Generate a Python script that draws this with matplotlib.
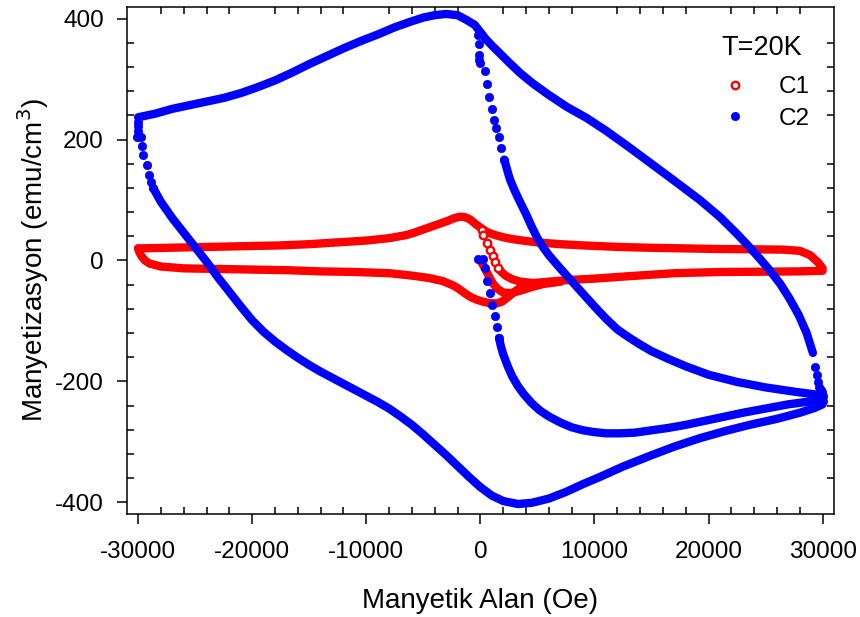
import matplotlib
matplotlib.use("Agg")
import matplotlib.pyplot as plt
from matplotlib.ticker import MultipleLocator

plt.rcParams['font.family'] = ['Liberation Sans', 'DejaVu Sans']
plt.rcParams['axes.unicode_minus'] = False

# ---------------- C1 (red, open circles) ----------------
c1_upper_H = [-30000, -27500, -25000, -22500, -20000, -17500, -15000, -12500, -10000, -8000,
              -6500, -5800, -5200, -4600, -4000, -3400, -2800, -2300, -1800, -1400, -1000,
              -700, -400, -100, 200, 600, 1000, 1500, 2000, 2500, 3500, 5000, 7000, 9000,
              12000, 15000, 18000, 21000, 24000, 26500, 28000, 28900, 29600, 30000]
c1_upper_M = [20, 21, 22, 23, 24, 25, 27, 30, 33, 37,
              42, 46, 50, 54, 58, 62, 66, 70, 72.5, 72, 69,
              65, 60, 56, 52, 47, 44, 41, 38.5, 36.5, 33.5, 30, 27, 25,
              22.5, 21, 20, 19, 18.5, 18, 16, 9, -3, -13]

c1_lower_H = [-30000, -29900, -29700, -29400, -29000, -28000, -26000, -23000, -20000, -17000,
              -14000, -11000, -8000, -6000, -4500, -3300, -2800, -2300, -1800, -1300, -800,
              -300, 200, 800, 1440, 1900, 2400, 2900, 3500, 4200, 5000, 6000, 8000, 10000,
              13000, 17000, 21000, 25000, 28000, 30000]
c1_lower_M = [20, 14, 7, 0, -5, -10, -13, -14, -15, -16,
              -18, -19, -21, -25, -29, -34, -38, -42, -48, -55, -61,
              -65, -68, -70.5, -71, -68, -61, -53, -45, -40, -37, -35, -32, -30,
              -26, -21, -19, -18.5, -18, -17]

c1_return_H = [1550, 1800, 2200, 2800, 3500, 4500, 5500, 7000]
c1_return_M = [-12, -18, -25, -31, -35, -37, -37, -35]

c1_virgin_H = [0, 250, 500, 800, 1100, 1500, 2000, 2700, 3500, 4500, 5500, 7000]
c1_virgin_M = [0, -8, -17, -28, -38, -47, -53, -54, -50, -44, -39, -35]

c1_dots_H = [120, 260, 560, 850, 1090, 1320, 1550]
c1_dots_M = [50, 42, 29, 17, 7, -2, -12]

# ---------------- C2 (blue, filled circles) ----------------
c2_upper_H = [-30000, -28500, -27000, -25500, -24000, -22500, -21000, -19500, -18000, -16500,
              -15000, -13500, -12000, -10500, -9000, -7500, -6000, -5000, -4000, -3000,
              -2000, -1200, -500, 0, 500, 1000, 1700, 2500, 3500, 4600, 6000, 7600, 9300,
              11000, 13000, 15000, 17000, 19250, 21000, 22500, 23500, 24500, 25400, 26300,
              27100, 27900, 28600, 29150]
c2_upper_M = [237, 243, 251, 257, 263, 269, 277, 287, 298, 311,
              325, 338, 351, 363, 374, 386, 396, 402, 406, 408,
              406, 398, 390, 378, 366, 356, 343, 328, 310, 293, 274, 254, 236,
              215, 188, 160, 132, 100, 72, 44, 24, 3, -17, -39,
              -63, -90, -120, -153]

c2_upper_end_H = [29330, 29470, 29590, 29700, 29850, 29980, 30000, 30000]
c2_upper_end_M = [-176, -190, -201, -210, -215, -218, -225, -232]

c2_left_dots_H = [-30000, -30000, -30000, -30140, -29730, -29640, -29530, -29230, -29030, -28860, -28680]
c2_left_dots_M = [230, 222, 214, 205, 204, 190, 174, 158, 141, 130, 120]

c2_lower_H = [-28680, -28000, -27000, -26000, -25000, -24000, -23000, -22000, -21000, -20000,
              -19000, -18000, -17000, -16000, -15000, -14000, -13000, -12000, -11000, -10000,
              -9000, -8000, -7000, -6000, -5000, -4000, -3000, -2000, -1000, 0, 1000, 2000,
              3300, 4500, 6000, 7500, 9000, 10500, 12500, 14900, 17000, 19250, 21500, 23600,
              26000, 28000, 29300, 30000]
c2_lower_M = [120, 97, 70, 46, 22, -2, -28, -52, -76, -99,
              -118, -134, -148, -161, -173, -184, -194, -204, -214, -224,
              -234, -245, -258, -272, -288, -305, -322, -340, -358, -375, -389, -398,
              -403, -401, -394, -383, -370, -358, -341, -323, -308, -294, -282, -272,
              -262, -252, -244, -238]

c2_mid_dots_H = [-200, -120, -140, -90, -30, 385, 560, 760, 1000, 1180, 1400, 1620, 1850, 2100]
c2_mid_dots_M = [373, 358, 340, 332, 327, 314, 292, 270, 251, 232, 220, 204, 186, 167]

c2_mid_H = [2100, 2350, 2600, 3000, 3500, 4000, 4500, 5000, 5500, 6000, 6500, 7000, 8000,
            9000, 10000, 11000, 12000, 13000, 14000, 15000, 16500, 18000, 20000, 22500,
            25000, 27500, 29500, 30000]
c2_mid_M = [167, 150, 134, 116, 96, 77, 56, 37, 22, 9, -2, -13, -34,
            -55, -76, -96, -114, -127, -139, -150, -163, -175, -189, -201,
            -210, -217, -222, -226]

c2_virgin_dots_H = [-200, 260, 410, 590, 820, 1000, 1290, 1460, 1640]
c2_virgin_dots_M = [2, 2, -12, -34, -53, -73, -92, -110, -128]

c2_virgin_H = [1640, 1800, 2000, 2400, 2800, 3300, 3800, 4500, 5200, 6000, 7000, 8000,
               9000, 10000, 11000, 12200, 13500, 15000, 16500, 18000, 19250, 21000, 23000,
               25000, 27000, 29000, 30000]
c2_virgin_M = [-128, -142, -155, -175, -192, -208, -221, -236, -248, -258, -268, -276,
               -281, -284, -286, -286, -285, -281, -277, -272, -267, -260, -252,
               -245, -238, -233, -230]

x_major = [-30000, -20000, -10000, 0, 10000, 20000, 30000]
y_major = [-400, -200, 0, 200, 400]

RED = '#ff0000'
BLUE = '#0000ff'
BAND = 6.0      # width of the densely sampled branches, points
MS = 6.0

fig = plt.figure(figsize=(8.6, 6.17), dpi=100)
ax = fig.add_axes([126.7 / 860, 1 - 514.3 / 617, 707.3 / 860, 507.6 / 617])

band_kw = dict(lw=BAND, solid_capstyle='round', solid_joinstyle='round')

# C1 branches
for hh, mm in [(c1_upper_H, c1_upper_M), (c1_lower_H, c1_lower_M),
               (c1_return_H, c1_return_M), (c1_virgin_H, c1_virgin_M)]:
    ax.plot(hh, mm, color=RED, **band_kw)
c1_handle, = ax.plot(c1_dots_H, c1_dots_M, ls='none', marker='o', ms=5.4,
                     mfc='white', mec=RED, mew=1.7, label='C1')

# C2 branches
for hh, mm in [(c2_upper_H, c2_upper_M), (c2_lower_H, c2_lower_M),
               (c2_mid_H, c2_mid_M), (c2_virgin_H, c2_virgin_M)]:
    ax.plot(hh, mm, color=BLUE, **band_kw)
c2_handle, = ax.plot(c2_mid_dots_H, c2_mid_dots_M, ls='none', marker='o', ms=MS,
                     mfc=BLUE, mec=BLUE, mew=0.5, label='C2')
for hh, mm in [(c2_upper_end_H, c2_upper_end_M), (c2_left_dots_H, c2_left_dots_M),
               (c2_virgin_dots_H, c2_virgin_dots_M)]:
    ax.plot(hh, mm, ls='none', marker='o', ms=MS, mfc=BLUE, mec=BLUE, mew=0.5)

ax.set_xlim(-31000, 31000)
ax.set_ylim(-420, 420)
ax.set_xticks(x_major)
ax.set_yticks(y_major)
ax.xaxis.set_minor_locator(MultipleLocator(2000))
ax.yaxis.set_minor_locator(MultipleLocator(40))

for sp in ax.spines.values():
    sp.set_linewidth(1.1)
ax.tick_params(which='major', direction='out', length=7.5, width=1.1,
               top=False, right=False, labelsize=17.5, colors='black')
ax.tick_params(axis='x', which='major', pad=11.5)
ax.tick_params(axis='y', which='major', pad=9)
ax.tick_params(which='minor', direction='in', length=5, width=1.1,
               top=True, right=True, bottom=True, left=True)

ax.set_xlabel('Manyetik Alan (Oe)', fontsize=20, labelpad=18)
ax.set_ylabel('Manyetizasyon (emu/cm$^3$)', fontsize=20, labelpad=3)

# temperature heading above the legend entries
ax.text(0.898, 0.9186, 'T=20K', transform=ax.transAxes, fontsize=19.5,
        ha='center', va='center')
ax.legend(handles=[c1_handle, c2_handle], frameon=False,
          loc='upper right', bbox_to_anchor=(0.966, 0.863), borderaxespad=0,
          borderpad=0, fontsize=17.5, handlelength=1.0,
          handletextpad=1.3, labelspacing=0.4)

fig.savefig('out.png', dpi=100)
